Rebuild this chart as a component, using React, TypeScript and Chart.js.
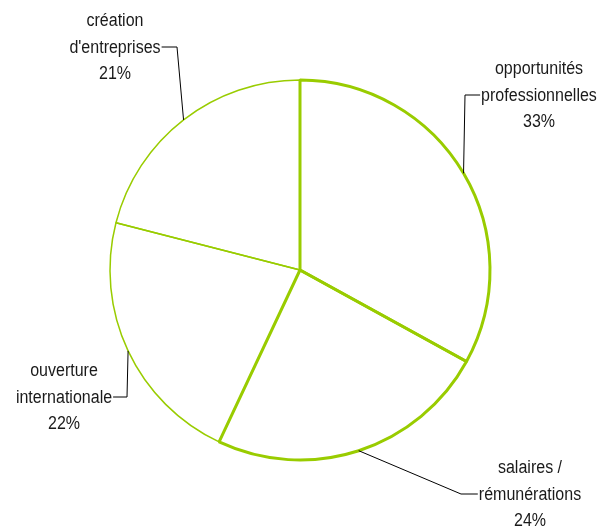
import React, { useEffect, useRef } from "react";
import { Chart, registerables } from "chart.js";

Chart.register(...registerables);

const categories: string[][] = [
  ["opportunités", "professionnelles"],
  ["salaires /", "rémunérations"],
  ["ouverture", "internationale"],
  ["création", "d'entreprises"],
];
const shares: number[] = [33, 24, 22, 21];
const borderWidths: number[] = [3, 3, 1.5, 1.5];

// label layout: text centre x, middle-line y, elbow x
const labelLayout = [
  { x: 539, y: 95, elbow: 465 },
  { x: 530, y: 494, elbow: 461 },
  { x: 64, y: 397, elbow: 127 },
  { x: 115, y: 47, elbow: 177 },
];

const GREEN = "#99CC00";
const SX = 0.89;

const labelPlugin = {
  id: "leaderLabels",
  afterDraw(chart: any) {
    const ctx = chart.ctx;
    const meta = chart.getDatasetMeta(0);
    ctx.save();
    ctx.font = "18px 'Liberation Sans', Arial, sans-serif";
    ctx.textAlign = "center";
    ctx.textBaseline = "middle";
    const lh = 26.5;
    meta.data.forEach((arc: any, i: number) => {
      const { x, y, startAngle, endAngle, outerRadius } = arc.getProps(
        ["x", "y", "startAngle", "endAngle", "outerRadius"],
        true
      );
      const mid = (startAngle + endAngle) / 2;
      const ax = x + Math.cos(mid) * outerRadius;
      const ay = y + Math.sin(mid) * outerRadius;
      const L = labelLayout[i];
      const lines = [...categories[i], shares[i] + "%"];
      ctx.fillStyle = "#1a1a1a";
      lines.forEach((t, k) => {
        ctx.save();
        ctx.translate(L.x, L.y + (k - 1) * lh + 1);
        ctx.scale(SX, 1);
        ctx.fillText(t, 0, 0);
        ctx.restore();
      });
      const w = ctx.measureText(lines[1]).width * SX;
      const edge = L.elbow > L.x ? L.x + w / 2 + 1 : L.x - w / 2 - 1;
      ctx.strokeStyle = "#000";
      ctx.lineWidth = 1;
      ctx.beginPath();
      ctx.moveTo(ax, ay);
      ctx.lineTo(L.elbow, L.y);
      ctx.lineTo(edge, L.y);
      ctx.stroke();
    });
    ctx.restore();
  },
};

export default function App() {
  const ref = useRef<HTMLCanvasElement>(null);
  useEffect(() => {
    document.body.style.margin = "0";
    const chart = new Chart(ref.current!, {
      type: "pie",
      data: {
        labels: categories.map((c) => c.join(" ")),
        datasets: [
          {
            data: shares,
            backgroundColor: "rgba(255,255,255,0)",
            borderColor: GREEN,
            borderWidth: borderWidths,
            hoverOffset: 0,
          },
        ],
      },
      options: {
        responsive: false,
        animation: false,
        radius: 190,
        layout: { padding: { left: 0, right: 3, top: 12, bottom: 0 } },
        plugins: {
          legend: { display: false },
          tooltip: { enabled: false },
        },
      } as any,
      plugins: [labelPlugin],
    });
    return () => chart.destroy();
  }, []);
  return (
    <div style={{ width: 603, height: 528, background: "#fff" }}>
      <canvas ref={ref} width={603} height={528} />
    </div>
  );
}
